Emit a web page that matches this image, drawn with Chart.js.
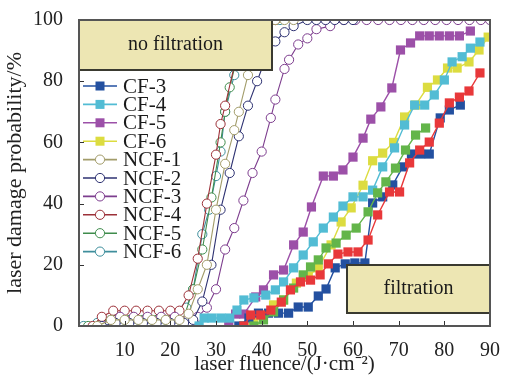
<!DOCTYPE html>
<html>
<head>
<meta charset="utf-8">
<script src="https://cdn.jsdelivr.net/npm/chart.js@4.4.1/dist/chart.umd.min.js"></script>
<style>
  html, body { margin: 0; padding: 0; background: #fff; }
  #wrap { width: 507px; height: 376px; }
</style>
</head>
<body>
<div id="wrap"><canvas id="chart" width="507" height="376"></canvas></div>
<script>
// ===============================
// DATA
// ===============================
const cf1X = [36.1, 37.6, 39.8, 42, 44.3, 46.3, 48.5, 50.7, 52.8, 54.6, 56.7, 58.9, 61.1, 63.3, 65.4, 68, 70.2, 72.4, 74.6, 76.7, 78.9, 81.1, 83.3, 85.4, 87.8];
const cf1Y = [0, 3.6, 3.6, 5.2, 7.8, 11.8, 14.4, 15, 16.7, 20.3, 23.5, 24.2, 24.2, 28.1, 36.3, 43.8, 43.8, 53.3, 57.5, 60.1, 66.3, 72.9, 74.8, 76.8, 82.7];

const cf2X = [38.3, 40.4, 42.6, 44.8, 47, 49.1, 50.7, 52.4, 54.1, 56.3, 58.5, 60.7, 63.3, 65.4, 67.2, 69.3, 71.5, 73.7, 75.9];
const cf2Y = [0, 2, 4.6, 8.5, 12.4, 16.7, 19.3, 21.6, 25.5, 27.1, 29.7, 32, 37.3, 43.5, 47.1, 51.6, 57.5, 62.4, 64.7];

const cf3X = [35, 37.2, 39.3, 41.5, 43.7, 45.9, 48, 50.2, 52.4, 54.1, 56.1, 58.3, 60.4, 62.6, 64.3, 66.5, 68.7, 70.9, 72.8, 74.8, 76.7, 79.1, 81.1, 83.5];
const cf3Y = [0, 2.6, 4.2, 4.2, 4.2, 4.2, 6.2, 6.2, 9.8, 12.1, 19, 20.3, 20.6, 20.6, 40.2, 42.2, 46.1, 52, 56.2, 56.2, 56.2, 68, 70.6, 72.2];

const cf4X = [26.3, 27.4, 29.1, 31.1, 33, 34.6, 36.1, 38.3, 40.9, 43, 44.8, 47, 49.1, 51.3, 53.5, 55.7, 57.8, 60, 62.2, 64.3, 66.5, 69.1, 71.3, 73.5, 75.7, 77.8, 80, 81.7, 83.9, 85.7, 87.8];
const cf4Y = [0, 2.6, 2.6, 2.6, 2.6, 5.2, 8.5, 9.2, 10.1, 11.8, 14.4, 19, 23.2, 27.5, 32, 35.6, 39.2, 42.2, 42.2, 44.4, 52, 58.2, 65.7, 72.2, 72.2, 75.5, 80.4, 86.3, 88, 90.8, 92.8];

const cf5X = [32.8, 34.3, 36.1, 38.7, 40.4, 42.6, 44.8, 47, 49.1, 50.9, 53.5, 55.7, 57.8, 60, 62.2, 63.9, 66.1, 68.5, 70.4, 72.6, 74.6, 76.7, 78.9, 81.1, 83.3, 85.7];
const cf5Y = [1, 3.9, 3.9, 9.5, 11.8, 16.7, 18.3, 26.5, 30.7, 38.9, 49, 49, 51, 55.2, 61.4, 67.6, 71.6, 77.8, 90.2, 92.5, 94.8, 94.8, 94.8, 94.8, 94.8, 96.4];

const cf6X = [36, 38.3, 40.4, 42.6, 44.8, 47.6, 50.2, 52.4, 55.2, 57.4, 59.6, 62.2, 64.3, 66.5, 68.9, 71.3, 73.7, 76.3, 78.5, 80.7, 82.8, 85.4, 87.6, 89.6];
const cf6Y = [0, 1.3, 3.6, 6.9, 8.5, 14, 16.3, 19, 26.5, 34, 38.6, 46, 54, 56.5, 60, 68.3, 72.2, 78, 80.4, 84.3, 84.3, 86.3, 90.2, 94.4];

const ncf1X = [4, 7, 10, 13, 16, 19, 22, 24, 26, 28, 30, 32, 34, 35, 37, 39, 41, 43, 45, 47];
const ncf1Y = [0, 2, 2, 2, 2, 2, 2, 4, 12, 20, 38, 53, 64, 70, 82, 92, 97, 100, 100, 100];

const ncf2X = [5, 8, 11, 14, 17, 20, 23, 25, 27, 29, 31, 33, 35, 37, 39, 41, 43, 45, 47, 50, 52, 54, 56, 58, 60];
const ncf2Y = [0, 1, 1, 1, 1, 1, 1, 2, 8, 20, 38, 50, 62, 72, 80, 88, 93, 96, 98, 100, 100, 100, 100, 100, 100];

const ncf3X = [6, 9, 12, 15, 18, 21, 24, 26, 28, 30, 32, 34, 36, 38, 40, 42, 43, 45, 46, 48, 50, 52, 55, 58, 60.5, 63, 65.5, 68, 70.5, 73, 75.5, 78, 80.5, 83, 85.5, 88, 90];
const ncf3Y = [0, 3, 3, 3, 3, 3, 3, 3, 6, 12, 25, 32, 41, 50, 57, 68, 74, 84, 87, 92, 94, 97, 98, 100, 100, 100, 100, 100, 100, 100, 100, 100, 100, 100, 100, 100, 100];

const ncf4X = [3, 5, 7.5, 10, 12.5, 15, 17.5, 20, 22, 24, 26, 28, 30, 31, 32, 34, 35, 37, 39, 41, 43];
const ncf4Y = [0, 3, 5, 5, 5, 5, 5, 5, 5, 10, 22, 40, 56, 66, 72, 85, 92, 97, 100, 100, 100];

const ncf5X = [2, 5, 8, 11, 14, 17, 20, 23, 25, 27, 29, 31, 32, 33, 35, 37, 39, 41, 43];
const ncf5Y = [0, 1, 2, 2, 2, 2, 2, 3, 12, 25, 42, 60, 70, 78, 90, 97, 100, 100, 100];

const ncf6X = [1, 4, 7, 10, 13, 16, 19, 22, 23.5, 25, 27, 28.5, 30, 31, 32, 34, 36, 38, 40, 42, 44];
const ncf6Y = [0, 1, 2, 2, 2, 2, 2, 2, 6, 12, 30, 38, 49, 57, 70, 82, 92, 98, 100, 100, 100];

const xTicks = [10, 20, 30, 40, 50, 60, 70, 80, 90];
const yTicks = [0, 20, 40, 60, 80, 100];

// ===============================
// SERIES SETUP
// ===============================
const SERIF = "'Liberation Serif', 'Times New Roman', serif";

function pts(xs, ys) {
    return xs.map((x, i) => ({ x: x, y: ys[i] }));
}

function cfSet(label, xs, ys, color, inLegend) {
    return {
        label: label, data: pts(xs, ys), showLine: true,
        borderColor: color, backgroundColor: color, borderWidth: 1.4,
        pointStyle: "rect", pointRadius: 6.5, pointBorderWidth: 0,
        pointBackgroundColor: color, inLegend: inLegend
    };
}

function ncfSet(label, xs, ys, color) {
    return {
        label: label, data: pts(xs, ys), showLine: true,
        borderColor: color, backgroundColor: "#fff", borderWidth: 1.1,
        pointStyle: "circle", pointRadius: 4.6, pointBorderWidth: 1,
        pointBackgroundColor: "#fff", pointBorderColor: color, inLegend: true
    };
}

const datasets = [
    cfSet("CF-1", cf1X, cf1Y, "#e8383a", false),
    cfSet("CF-2", cf2X, cf2Y, "#63b54a", false),
    cfSet("CF-3", cf3X, cf3Y, "#2350a0", true),
    cfSet("CF-4", cf4X, cf4Y, "#52bcd4", true),
    cfSet("CF-5", cf5X, cf5Y, "#9c50a8", true),
    cfSet("CF-6", cf6X, cf6Y, "#dcdc40", true),
    ncfSet("NCF-1", ncf1X, ncf1Y, "#a29c6a"),
    ncfSet("NCF-2", ncf2X, ncf2Y, "#2e3272"),
    ncfSet("NCF-3", ncf3X, ncf3Y, "#7d3d8e"),
    ncfSet("NCF-4", ncf4X, ncf4Y, "#9c3038"),
    ncfSet("NCF-5", ncf5X, ncf5Y, "#3f8c4c"),
    ncfSet("NCF-6", ncf6X, ncf6Y, "#3e8e9c")
];

// ===============================
// OVERLAY: frame, inner ticks, text boxes, legend
// ===============================
const overlay = {
    id: "overlay",
    afterDatasetsDraw(chart) {
        const ctx = chart.ctx;
        const a = chart.chartArea;
        const xs = chart.scales.x, ys = chart.scales.y;
        ctx.save();

        // inner tick marks
        ctx.strokeStyle = "#333";
        ctx.lineWidth = 1;
        xTicks.forEach(v => {
            const px = Math.round(xs.getPixelForValue(v)) + 0.5;
            ctx.beginPath(); ctx.moveTo(px, a.bottom); ctx.lineTo(px, a.bottom - 5); ctx.stroke();
        });
        yTicks.forEach(v => {
            const py = Math.round(ys.getPixelForValue(v)) + 0.5;
            ctx.beginPath(); ctx.moveTo(a.left, py); ctx.lineTo(a.left + 5, py); ctx.stroke();
        });

        // text boxes
        function box(x1, y1, x2, y2, text) {
            ctx.fillStyle = "#ede6b3";
            ctx.fillRect(x1, y1, x2 - x1, y2 - y1);
            ctx.strokeStyle = "#3a3a30";
            ctx.lineWidth = 2;
            ctx.strokeRect(x1, y1, x2 - x1, y2 - y1);
            ctx.fillStyle = "#1a1a1a";
            ctx.font = "20px " + SERIF;
            ctx.textAlign = "center";
            ctx.textBaseline = "middle";
            ctx.fillText(text, (x1 + x2) / 2, (y1 + y2) / 2);
        }
        box(a.left, a.top, 272, 70, "no filtration");
        box(347, 265, a.right, 313, "filtration");

        // frame
        ctx.strokeStyle = "#555";
        ctx.lineWidth = 2;
        ctx.strokeRect(a.left, a.top, a.right - a.left, a.bottom - a.top);

        // legend
        let ly = 86;
        chart.data.datasets.forEach(ds => {
            if (!ds.inLegend) return;
            ctx.strokeStyle = ds.borderColor;
            ctx.lineWidth = 1.6;
            ctx.beginPath(); ctx.moveTo(83, ly); ctx.lineTo(117, ly); ctx.stroke();
            if (ds.pointStyle === "rect") {
                ctx.fillStyle = ds.pointBackgroundColor;
                ctx.fillRect(100 - 4.5, ly - 4.5, 9, 9);
            } else {
                ctx.fillStyle = "#fff";
                ctx.lineWidth = 1;
                ctx.beginPath(); ctx.arc(100, ly, 4.6, 0, Math.PI * 2); ctx.fill(); ctx.stroke();
            }
            ctx.fillStyle = "#1a1a1a";
            ctx.font = "21px " + SERIF;
            ctx.textAlign = "left";
            ctx.textBaseline = "middle";
            ctx.fillText(ds.label, 123, ly + 1);
            ly += 18.4;
        });

        ctx.restore();
    }
};

// ===============================
// CHART
// ===============================
new Chart(document.getElementById("chart").getContext("2d"), {
    type: "scatter",
    data: { datasets: datasets },
    plugins: [overlay],
    options: {
        responsive: false,
        animation: false,
        layout: { padding: { top: 20, right: 14, left: 0, bottom: 0 } },
        plugins: { legend: { display: false }, tooltip: { enabled: false } },
        scales: {
            x: {
                type: "linear", min: 0, max: 90,
                afterFit: s => { s.height = 50; },
                afterBuildTicks: s => { s.ticks = xTicks.map(v => ({ value: v })); },
                grid: { display: false }, border: { display: false },
                ticks: { font: { family: SERIF, size: 20, lineHeight: 1 }, color: "#222", padding: 7 },
                title: { display: true, text: "laser fluence/(J·cm⁻²)", font: { family: SERIF, size: 21, lineHeight: 1 }, color: "#222", padding: { top: 2, bottom: 1 } }
            },
            y: {
                min: 0, max: 100,
                afterFit: s => { s.width = 79; },
                afterBuildTicks: s => { s.ticks = yTicks.map(v => ({ value: v })); },
                grid: { display: false }, border: { display: false },
                ticks: { font: { family: SERIF, size: 20 }, color: "#222", padding: 8 },
                title: { display: true, text: "laser damage probability/%", font: { family: SERIF, size: 22, lineHeight: 1.1 }, color: "#222", padding: { top: 3, bottom: 0 } }
            }
        }
    }
});
</script>
</body>
</html>
